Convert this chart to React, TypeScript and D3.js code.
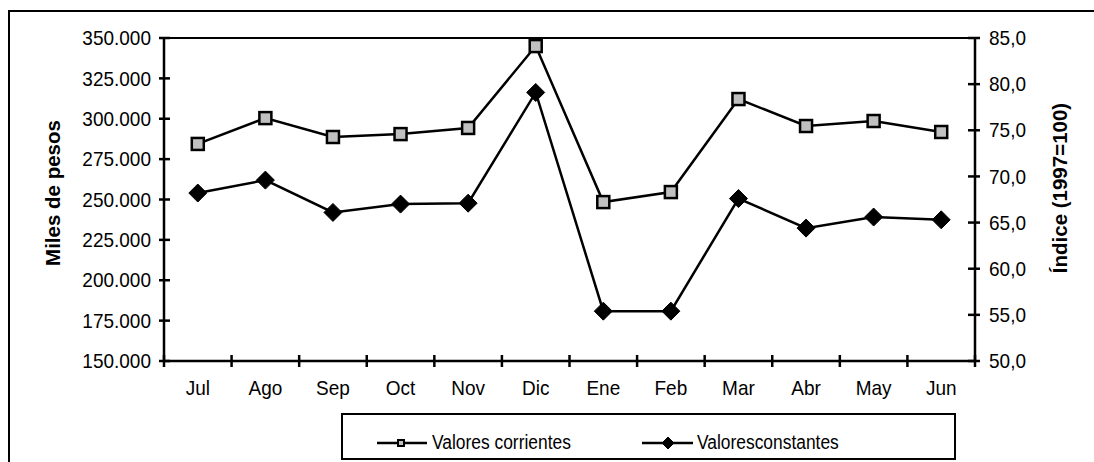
import React from "react";
import * as d3 from "d3";

const months = ["Jul", "Ago", "Sep", "Oct", "Nov", "Dic", "Ene", "Feb", "Mar", "Abr", "May", "Jun"];
const corrientes = [284400, 300400, 288700, 290500, 294300, 345000, 248400, 254600, 312200, 295500, 298600, 291800];
const constantes = [68.2, 69.6, 66.1, 67.0, 67.1, 79.1, 55.4, 55.4, 67.6, 64.4, 65.6, 65.3];
const leftTicks = [150000, 175000, 200000, 225000, 250000, 275000, 300000, 325000, 350000];
const rightTicks = [50, 55, 60, 65, 70, 75, 80, 85];
const seriesNames = ["Valores corrientes", "Valoresconstantes"];

const W = 1094;
const H = 462;
const plot = { left: 164, right: 975, top: 38, bottom: 361 };
const FONT = "'Liberation Sans', Arial, sans-serif";

export default function App() {
  const x = d3.scaleBand<string>().domain(months).range([plot.left, plot.right]);
  const yL = d3.scaleLinear().domain([150000, 350000]).range([plot.bottom, plot.top]);
  const yR = d3.scaleLinear().domain([50, 85]).range([plot.bottom, plot.top]);
  const fmtL = (v: number) => d3.format(",")(v).replace(/,/g, ".");
  const fmtR = (v: number) => v.toFixed(1).replace(".", ",");
  const cx = (m: string) => (x(m) as number) + x.bandwidth() / 2;

  const lineL = d3.line<number>().x((_, i) => cx(months[i])).y((d) => yL(d));
  const lineR = d3.line<number>().x((_, i) => cx(months[i])).y((d) => yR(d));

  const sq = 12;
  const dm = 9;
  const diamond = (px: number, py: number, r: number) =>
    `M${px},${py - r}L${px + r},${py}L${px},${py + r}L${px - r},${py}Z`;

  const boundaries = months.map((m) => x(m) as number).concat([plot.right]);

  return (
    <svg width={W} height={H} style={{ position: "absolute", left: 0, top: 0 }} fontFamily={FONT}>
      <rect x={0} y={0} width={W} height={H} fill="#fff" />
      {/* outer frame */}
      <rect x={9} y={11} width={W + 20} height={H + 20} fill="none" stroke="#000" strokeWidth={2} />
      {/* plot top border */}
      <line x1={plot.left} x2={plot.right} y1={plot.top} y2={plot.top} stroke="#000" strokeWidth={2} />
      {/* left axis */}
      <line x1={plot.left} x2={plot.left} y1={plot.top} y2={plot.bottom} stroke="#000" strokeWidth={2.5} />
      {leftTicks.map((t) => (
        <g key={"l" + t}>
          <line x1={plot.left - 5} x2={plot.left + 6} y1={yL(t)} y2={yL(t)} stroke="#000" strokeWidth={2.5} />
          <text transform={`translate(151,${yL(t)}) scale(0.95,1)`} dy="0.36em" textAnchor="end" fontSize={20}>
            {fmtL(t)}
          </text>
        </g>
      ))}
      {/* right axis */}
      <line x1={plot.right} x2={plot.right} y1={plot.top} y2={plot.bottom} stroke="#000" strokeWidth={2.5} />
      {rightTicks.map((t) => (
        <g key={"r" + t}>
          <line x1={plot.right - 7} x2={plot.right + 5} y1={yR(t)} y2={yR(t)} stroke="#000" strokeWidth={2.5} />
          <text transform={`translate(989,${yR(t)}) scale(0.95,1)`} dy="0.36em" textAnchor="start" fontSize={20}>
            {fmtR(t)}
          </text>
        </g>
      ))}
      {/* bottom axis */}
      <line x1={plot.left} x2={plot.right} y1={plot.bottom} y2={plot.bottom} stroke="#000" strokeWidth={2.5} />
      {boundaries.map((b, i) => (
        <line key={"b" + i} x1={b} x2={b} y1={plot.bottom - 6} y2={plot.bottom + 6} stroke="#000" strokeWidth={2.5} />
      ))}
      {months.map((m) => (
        <text key={m} transform={`translate(${cx(m)},395) scale(0.95,1)`} textAnchor="middle" fontSize={20}>
          {m}
        </text>
      ))}
      {/* axis titles */}
      <text transform={`translate(60,193) rotate(-90)`} textAnchor="middle" fontSize={20.5} fontWeight="bold">
        Miles de pesos
      </text>
      <text transform={`translate(1067,188) rotate(-90)`} textAnchor="middle" fontSize={20.5} fontWeight="bold">
        Índice (1997=100)
      </text>
      {/* series */}
      <path d={lineL(corrientes) as string} fill="none" stroke="#000" strokeWidth={2.5} />
      <path d={lineR(constantes) as string} fill="none" stroke="#000" strokeWidth={2.5} />
      {corrientes.map((v, i) => (
        <rect key={"s" + i} x={cx(months[i]) - sq / 2} y={yL(v) - sq / 2} width={sq} height={sq} fill="#c0c0c0" stroke="#000" strokeWidth={2.5} />
      ))}
      {constantes.map((v, i) => (
        <path key={"d" + i} d={diamond(cx(months[i]), yR(v), dm)} fill="#000" stroke="#000" strokeWidth={1} strokeLinejoin="round" />
      ))}
      {/* legend */}
      <rect x={342} y={414} width={613} height={45} fill="#fff" stroke="#000" strokeWidth={2} />
      <line x1={377} x2={427} y1={443} y2={443} stroke="#000" strokeWidth={2.5} />
      <rect x={398} y={440} width={6} height={6} fill="#c0c0c0" stroke="#000" strokeWidth={2} />
      <text transform="translate(432,449) scale(0.87,1)" fontSize={20}>{seriesNames[0]}</text>
      <line x1={642} x2={693} y1={443} y2={443} stroke="#000" strokeWidth={2.5} />
      <path d={diamond(668, 443, 6)} fill="#000" stroke="#000" strokeWidth={1} />
      <text transform="translate(697,449) scale(0.87,1)" fontSize={20}>{seriesNames[1]}</text>
    </svg>
  );
}
